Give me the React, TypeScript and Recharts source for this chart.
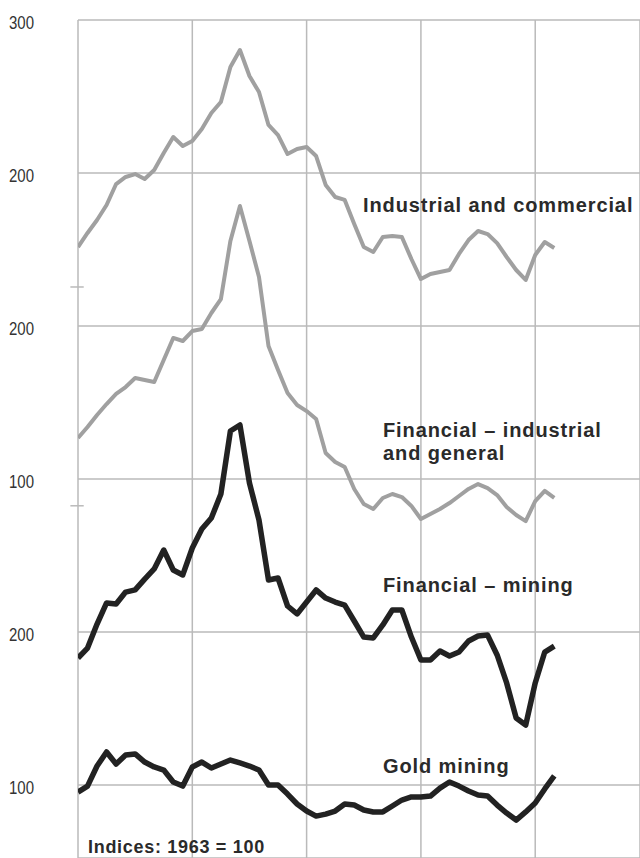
import React from 'react';
import { LineChart, Line, XAxis, YAxis, CartesianGrid, ReferenceLine } from 'recharts';

// Monthly observations (index 0 = first month shown); gridlines mark each year
const months: number[] = [
  0, 1, 2, 3, 4, 5, 6, 7, 8, 9, 10, 11, 12, 13, 14, 15, 16, 17, 18, 19, 20, 21, 22, 23, 24, 25,
  26, 27, 28, 29, 30, 31, 32, 33, 34, 35, 36, 37, 38, 39, 40, 41, 42, 43, 44, 45, 46, 47, 48, 49, 50,
];
const yearTicks: number[] = [0, 12, 24, 36, 48];

const industrial: number[] = [
  151.6, 160.8, 169.3, 179.1, 192.8, 197.4, 199.3, 196.1, 202.0, 213.1, 223.5, 217.6, 220.9,
  228.8, 239.2, 246.4, 269.3, 280.4, 263.4, 252.9, 231.4, 224.8, 212.4, 215.7, 217.0, 211.1,
  192.2, 184.3, 182.4, 166.7, 151.6, 148.4, 158.2, 158.8, 158.2, 143.8, 130.7, 134.0, 135.3,
  136.6, 147.1, 156.2, 162.1, 160.1, 154.2, 145.1, 136.6, 130.1, 146.4, 154.9, 151.0,
];
const finIndustrial: number[] = [
  126.8, 134.0, 141.8, 149.0, 155.6, 160.1, 166.0, 164.7, 163.4, 177.8, 192.2, 190.2, 196.7,
  198.0, 208.5, 217.6, 255.6, 278.4, 255.6, 232.0, 186.9, 171.2, 156.2, 148.4, 144.4, 139.2,
  117.0, 111.1, 107.8, 93.5, 83.7, 80.4, 87.6, 90.2, 88.2, 82.4, 73.9, 77.1, 80.4,
  84.3, 88.9, 93.5, 96.7, 94.1, 89.5, 81.7, 76.5, 72.5, 85.6, 92.2, 87.6,
];
const finMining: number[] = [
  183.0, 189.5, 205.2, 219.0, 218.3, 226.1, 227.5, 234.6, 241.2, 253.6, 240.5, 237.3, 254.9,
  267.3, 274.5, 290.2, 331.4, 335.3, 297.4, 273.2, 234.0, 235.3, 217.0, 211.8, 219.6, 227.5,
  222.2, 219.6, 217.6, 207.2, 196.7, 196.1, 204.6, 214.4, 214.4, 196.7, 181.7, 181.7, 187.6,
  184.3, 186.9, 194.1, 197.4, 198.0, 185.0, 166.7, 143.8, 139.2, 166.7, 186.9, 190.8,
];
const goldMining: number[] = [
  95.4, 99.3, 112.4, 121.6, 113.7, 119.6, 120.3, 115.0, 111.8, 109.8, 102.0, 99.3, 111.8,
  115.0, 111.1, 113.7, 116.3, 114.4, 112.4, 109.8, 100.0, 100.0, 94.1, 87.6, 83.0, 79.7,
  81.0, 83.0, 87.6, 86.9, 83.7, 82.4, 82.4, 86.3, 90.2, 92.2, 92.2, 92.8, 98.0,
  102.0, 99.3, 96.1, 93.5, 92.8, 86.9, 81.7, 77.1, 82.4, 88.2, 97.4, 105.9,
];

// Panels share one vertical scale, stacked with offsets (mining panels at the bottom)
const miningDomain: number[] = [52.3, 600];
const finIndOffset = 200;
const industrialOffset = 300;

// Left-hand labels: positions on the bottom-panel scale and the text printed there
const gridValues: number[] = [600, 500, 400, 300, 200, 100];
const gridLabels: string[] = ['300', '200', '200', '100', '200', '100'];

const data = months.map((m, i) => ({
  m,
  industrial: industrial[i],
  finIndustrial: finIndustrial[i],
  finMining: finMining[i],
  goldMining: goldMining[i],
}));

const GRID = '#bababa';
const GREY_LINE = '#a0a0a0';
const BLACK_LINE = '#222222';
const TEXT = '#2a2a2a';

const LeftTick = (props: any) => {
  const { y, payload } = props;
  const idx = gridValues.indexOf(payload.value);
  return (
    <text
      x={9}
      y={y + 9}
      fill="#333333"
      fontSize={18}
      fontFamily="'Liberation Sans', Arial, sans-serif"
      textAnchor="start"
      textLength={25}
      lengthAdjust="spacingAndGlyphs"
    >
      {idx >= 0 ? gridLabels[idx] : ''}
    </text>
  );
};

const labelStyle: React.CSSProperties = {
  fontFamily: "'Liberation Sans', Arial, sans-serif",
  fontWeight: 700,
  fontSize: 20,
  letterSpacing: 0.9,
  fill: TEXT,
};

export default function App() {
  const finIndDomain = miningDomain.map((v) => v - finIndOffset);
  const industrialDomain = miningDomain.map((v) => v - industrialOffset);
  return (
    <div style={{ position: 'absolute', left: 0, top: 0, width: 640, height: 858, background: '#ffffff', overflow: 'hidden' }}>
      <LineChart width={640} height={858} data={data} margin={{ top: 20, right: 0, bottom: 0, left: 0 }}>
        <XAxis dataKey="m" type="number" domain={[0, 59]} ticks={yearTicks} hide allowDataOverflow />
        <YAxis
          yAxisId="m"
          type="number"
          domain={miningDomain}
          ticks={gridValues}
          width={78}
          axisLine={false}
          tickLine={false}
          tick={<LeftTick />}
          allowDataOverflow
          interval={0}
        />
        <YAxis yAxisId="fi" type="number" domain={finIndDomain} hide allowDataOverflow />
        <YAxis yAxisId="ind" type="number" domain={industrialDomain} hide allowDataOverflow />
        <CartesianGrid yAxisId="m" stroke={GRID} strokeWidth={1.5} />
        <ReferenceLine
          yAxisId="ind"
          segment={[{ x: -0.8, y: 125.5 }, { x: 0.6, y: 125.5 }]}
          stroke={GRID}
          strokeWidth={1.5}
          ifOverflow="visible"
        />
        <ReferenceLine
          yAxisId="fi"
          segment={[{ x: -0.8, y: 82.5 }, { x: 0.6, y: 82.5 }]}
          stroke={GRID}
          strokeWidth={1.5}
          ifOverflow="visible"
        />
        <Line yAxisId="ind" dataKey="industrial" stroke={GREY_LINE} strokeWidth={4} dot={false} isAnimationActive={false} strokeLinejoin="round" />
        <Line yAxisId="fi" dataKey="finIndustrial" stroke={GREY_LINE} strokeWidth={4} dot={false} isAnimationActive={false} strokeLinejoin="round" />
        <Line yAxisId="m" dataKey="finMining" stroke={BLACK_LINE} strokeWidth={5.5} dot={false} isAnimationActive={false} strokeLinejoin="round" />
        <Line yAxisId="m" dataKey="goldMining" stroke={BLACK_LINE} strokeWidth={5.5} dot={false} isAnimationActive={false} strokeLinejoin="round" />
      </LineChart>
      <svg width={640} height={858} style={{ position: 'absolute', left: 0, top: 0, pointerEvents: 'none' }}>
        <text x={363} y={212} style={labelStyle}>Industrial and commercial</text>
        <text x={383} y={437} style={labelStyle}>Financial – industrial</text>
        <text x={383} y={460} style={labelStyle}>and general</text>
        <text x={383} y={592} style={labelStyle}>Financial – mining</text>
        <text x={383} y={773} style={labelStyle}>Gold mining</text>
        <text x={88} y={853} style={{ ...labelStyle, fontSize: 18, letterSpacing: 0.7 }}>Indices: 1963 = 100</text>
      </svg>
    </div>
  );
}
